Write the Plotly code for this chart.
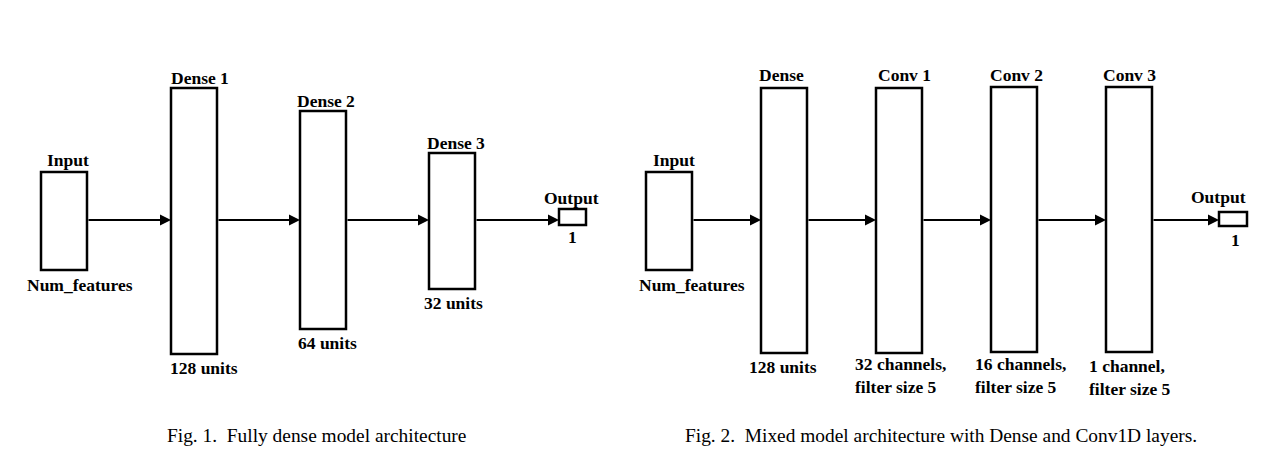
import plotly.graph_objects as go

# Figure 1: fully dense model
fig1_layers = ["Input", "Dense 1", "Dense 2", "Dense 3", "Output"]
fig1_sizes = ["Num_features", "128 units", "64 units", "32 units", "1"]
fig1_caption = "Fig. 1.\u00a0\u00a0Fully dense model architecture"

# Figure 2: mixed dense + conv1d model
fig2_layers = ["Input", "Dense", "Conv 1", "Conv 2", "Conv 3", "Output"]
fig2_sizes = ["Num_features", "128 units", "32 channels,<br>filter size 5",
              "16 channels,<br>filter size 5", "1 channel,<br>filter size 5", "1"]
fig2_caption = "Fig. 2.\u00a0\u00a0Mixed model architecture with Dense and Conv1D layers."

# box geometry (pixel coords of the page, y down)
fig1_x0 = [41, 171, 300, 429, 559]
fig1_x1 = [87, 217, 346, 475, 586]
fig1_y0 = [172, 88, 111, 153, 209]
fig1_y1 = [270, 354, 329, 289, 225]
fig1_top = [(68, 160), (200, 78), (326, 101), (456, 143), (571, 198)]
fig1_bot = [(80, 285), (204, 368), (327, 343), (453, 303), (572, 237)]

fig2_x0 = [646, 761, 876, 991, 1106, 1219]
fig2_x1 = [692, 807, 922, 1037, 1152, 1247]
fig2_y0 = [172, 88, 88, 87, 87, 212]
fig2_y1 = [270, 353, 353, 352, 352, 226]
fig2_top = [(674, 160), (781, 75), (904, 75), (1016, 75), (1129, 75), (1218, 197)]
fig2_bot = [(692, 285), (783, 367), (853, 375), (973, 375), (1087, 377), (1235, 240)]

arrow_y = 220
W, H = 1281, 458
PAD = 8  # page body margin, shifted out through the axis ranges
serif = "Liberation Serif"
label_font = dict(family=serif, size=17.5, color="black", weight="bold")

fig = go.Figure(go.Scatter(x=[], y=[], hoverinfo="skip"))


def draw(x0s, x1s, y0s, y1s, names, sizes, tops, bots):
    for i in range(len(names)):
        fig.add_shape(type="rect", x0=x0s[i], x1=x1s[i], y0=y0s[i], y1=y1s[i],
                      line=dict(color="black", width=2.5), fillcolor="white")
        fig.add_annotation(x=tops[i][0], y=tops[i][1], text=names[i], showarrow=False,
                           font=label_font)
        multi = "<br>" in sizes[i]
        fig.add_annotation(x=bots[i][0], y=bots[i][1], text=sizes[i], showarrow=False,
                           xanchor="left" if multi else "center", align="left",
                           font=label_font)
        if i > 0:
            fig.add_annotation(x=x0s[i], y=arrow_y, ax=x1s[i - 1], ay=arrow_y,
                               xref="x", yref="y", axref="x", ayref="y",
                               text="", showarrow=True, arrowhead=2, arrowsize=1.1,
                               arrowwidth=2, arrowcolor="black", standoff=0)


draw(fig1_x0, fig1_x1, fig1_y0, fig1_y1, fig1_layers, fig1_sizes, fig1_top, fig1_bot)
draw(fig2_x0, fig2_x1, fig2_y0, fig2_y1, fig2_layers, fig2_sizes, fig2_top, fig2_bot)

fig.add_annotation(x=316, y=435, text=fig1_caption, showarrow=False,
                   font=dict(family=serif, size=19.4, color="black"))
fig.add_annotation(x=941, y=435, text=fig2_caption, showarrow=False,
                   font=dict(family=serif, size=19.4, color="black"))

fig.update_layout(
    width=W, height=H,
    margin=dict(l=0, r=0, t=0, b=0),
    paper_bgcolor="white", plot_bgcolor="white",
    showlegend=False,
    xaxis=dict(range=[PAD, W + PAD], visible=False, fixedrange=True),
    yaxis=dict(range=[H + PAD, PAD], visible=False, fixedrange=True),
)

fig.write_html("out.html")
